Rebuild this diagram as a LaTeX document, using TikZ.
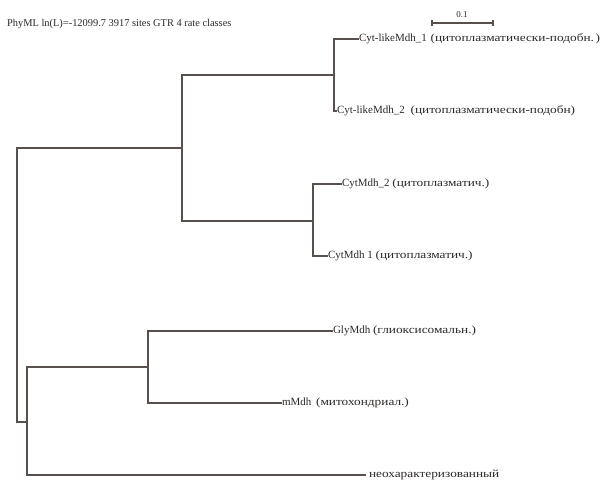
\documentclass[tikz,border=0pt]{standalone}
\usepackage{fontspec}
\setmainfont{Liberation Serif}
\newfontfamily\cyrfont[FakeStretch=1.21]{Liberation Serif}
\definecolor{brcol}{RGB}{88,80,76}
\definecolor{inkcol}{RGB}{45,42,40}
\begin{document}
\begin{tikzpicture}[x=1pt,y=-1pt,
  branchline/.style={draw=brcol,line width=1.1pt},
  leaf/.style={anchor=west,inner sep=0pt,outer sep=0pt,text=inkcol,font=\fontsize{11}{13}\selectfont},
  titletext/.style={anchor=west,inner sep=0pt,text=inkcol,font=\fontsize{10.4}{12}\selectfont},
  scaletext/.style={inner sep=0pt,text=inkcol,font=\fontsize{9}{10}\selectfont}]
\useasboundingbox[fill=white] (0,0) rectangle (606,485);
% title and scale bar
\node[titletext] (title) at (7,24) {PhyML ln(L)=-12099.7 3917 sites GTR 4 rate classes};
\coordinate (sbl) at (432,23);
\coordinate (sbr) at (493,23);
\draw[branchline] (sbl) -- (sbr);
\draw[branchline] ([yshift=-3pt]sbl) -- ([yshift=3pt]sbl);
\draw[branchline] ([yshift=-3pt]sbr) -- ([yshift=3pt]sbr);
\node[scaletext] (sblabel) at (462,15) {0.1};
% internal nodes
\coordinate (cR) at (17,285);
\coordinate (cC) at (182,148);
\coordinate (cA) at (334,75);
\coordinate (cB) at (313,221);
\coordinate (cE) at (27,422);
\coordinate (cD) at (148,367);
% leaves
\node[leaf] (l1) at (359,39) {Cyt-likeMdh\_1\hspace{1pt} {\cyrfont (цитоплазматически-подобн.\hspace{1.5pt})}};
\node[leaf] (l2) at (337,111) {Cyt-likeMdh\_2\hspace{3pt} {\cyrfont (цитоплазматически-подобн)}};
\node[leaf] (l3) at (342,184) {CytMdh\_2 {\cyrfont (цитоплазматич.)}};
\node[leaf] (l4) at (328,256) {CytMdh 1 {\cyrfont (цитоплазматич.)}};
\node[leaf] (l5) at (333,331) {GlyMdh {\cyrfont (глиоксисомальн.)}};
\node[leaf] (l6) at (282,403) {mMdh\hspace{2pt} {\cyrfont (митохондриал.)}};
\node[leaf] (l7) at (369,475) {\cyrfont неохарактеризованный};
% branches
\draw[branchline] (cR) |- (cC);
\draw[branchline] (cR) |- (cE);
\draw[branchline] (cC) |- (cA);
\draw[branchline] (cC) |- (cB);
\draw[branchline] (cA) |- (l1.west);
\draw[branchline] (cA) |- (l2.west);
\draw[branchline] (cB) |- (l3.west);
\draw[branchline] (cB) |- (l4.west);
\draw[branchline] (cE) |- (cD);
\draw[branchline] (cE) |- ([xshift=-3pt]l7.west);
\draw[branchline] (cD) |- (l5.west);
\draw[branchline] (cD) |- (l6.west);
\end{tikzpicture}
\end{document}
